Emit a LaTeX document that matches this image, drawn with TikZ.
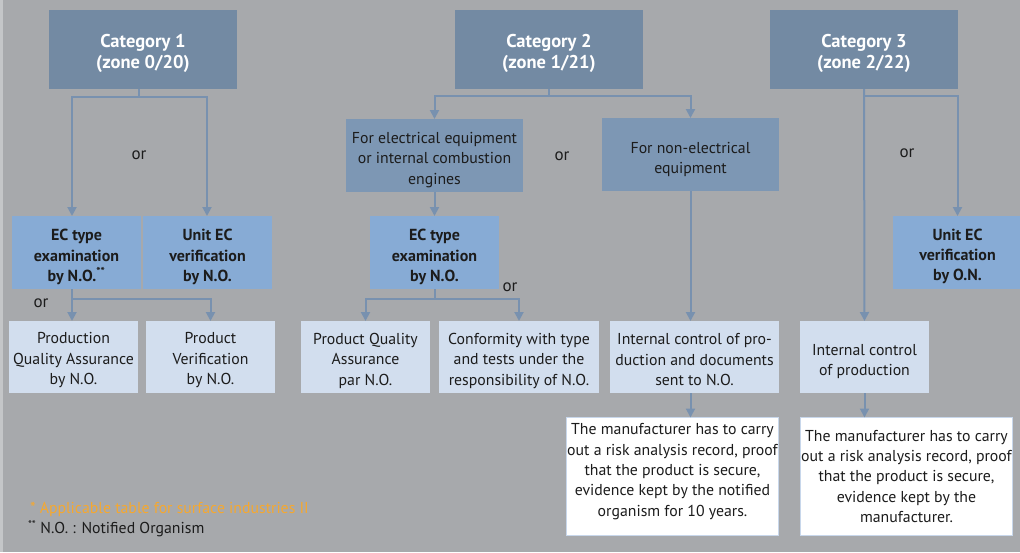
\documentclass[tikz,border=0pt]{standalone}
\usepackage{fontspec}
\setmainfont{PT Sans}
\usetikzlibrary{arrows.meta}
\definecolor{bg}{HTML}{A7A9AC}
\definecolor{strip}{HTML}{C4C6C8}
\definecolor{catc}{HTML}{738AA3}
\definecolor{midc}{HTML}{7D97B4}
\definecolor{ecc}{HTML}{87ABD5}
\definecolor{lightc}{HTML}{D2DEEE}
\definecolor{wbord}{HTML}{C8D7EB}
\definecolor{linec}{HTML}{7891AF}
\definecolor{orangec}{HTML}{F5A830}
\definecolor{txt}{HTML}{1C1C1C}
% name, box style, text style, centre, width, height, text shift, text
\newcommand\makebx[8]{%
  \node[#2,minimum width=#5,minimum height=#6] (#1) at (#4) {};
  \node[#3] (#1t) at ([yshift=#7]#1.center) {#8};}
\begin{document}
\begin{tikzpicture}[x=1pt,y=-1pt,
  base/.style={inner sep=0pt,outer sep=0pt,align=center,font=\fontsize{15.8}{20.5}\selectfont,text=txt},
  catbox/.style={base,fill=catc},
  midbox/.style={base,fill=midc},
  ecbox/.style={base,fill=ecc},
  lightbox/.style={base,fill=lightc},
  whitebox/.style={base,fill=white,draw=wbord,line width=1.5pt},
  cattext/.style={base,text=white,font=\bfseries\fontsize{18.5}{21}\selectfont},
  plaintext/.style={base},
  ectext/.style={base,font=\bfseries\fontsize{16}{20.3}\selectfont},
  whitetext/.style={base,font=\fontsize{15.8}{20.4}\selectfont},
  ortext/.style={base,font=\fontsize{17}{18}\selectfont},
  conn/.style={draw=linec,line width=2pt},
  arr/.style={conn,-{Triangle[length=9pt,width=9pt]}}
]
\useasboundingbox (0,0) rectangle (1020,552);
\fill[bg] (0,0) rectangle (1020,552);
\fill[strip] (0,0) rectangle (3,552);

% top categories
\makebx{cat1}{catbox}{cattext}{143,49.5}{188}{79}{-4pt}{Category 1\\(zone 0/20)}
\makebx{cat2}{catbox}{cattext}{549,49.5}{188}{79}{-4pt}{Category 2\\(zone 1/21)}
\makebx{cat3}{catbox}{cattext}{864,49.5}{188}{79}{-4pt}{Category 3\\(zone 2/22)}

% category 1 branch
\makebx{ecA}{ecbox}{ectext}{76.5,252.5}{129}{73}{-4.5pt}{EC type\\examination\\by N.O.\textsuperscript{**}}
\makebx{unitA}{ecbox}{ectext}{207.5,252.5}{129}{73}{-4.5pt}{Unit EC\\verification\\by N.O.}
\makebx{pqaA}{lightbox}{plaintext}{73.5,357}{129}{72}{-3.5pt}{Production\\Quality Assurance\\by N.O.}
\makebx{pvA}{lightbox}{plaintext}{210.5,357}{129}{72}{-3.5pt}{Product\\Verification\\by N.O.}
\node[ortext] (or1) at (139,155) {or};
\node[ortext] (or2) at (41,303) {or};

% category 2 branch
\makebx{elec}{midbox}{plaintext}{434.5,155.5}{177}{73}{-4.5pt}{For electrical equipment\\or internal combustion\\engines}
\makebx{nonel}{midbox}{plaintext}{690.5,154.5}{177}{73}{-5pt}{For non-electrical\\equipment}
\makebx{ecB}{ecbox}{ectext}{434.5,252.5}{129}{73}{-4.5pt}{EC type\\examination\\by N.O.}
\makebx{pqaB}{lightbox}{plaintext}{365.5,357}{129}{72}{-3.5pt}{Product Quality\\Assurance\\par N.O.}
\makebx{conf}{lightbox}{plaintext}{519,357}{160}{72}{-3.5pt}{Conformity with type\\and tests under the\\responsibility of N.O.}
\makebx{icp}{lightbox}{plaintext}{694.5,357}{169}{72}{-3pt}{Internal control of pro-\\duction and documents\\sent to N.O.}
\makebx{white1}{whitebox}{whitetext}{672.5,476.5}{212}{118}{5pt}{The manufacturer has to carry\\out a risk analysis record, proof\\that the product is secure,\\evidence kept by the notified\\organism for 10 years.}
\node[ortext] (or3) at (562,156) {or};
\node[ortext] (or4) at (510,287) {or};

% category 3 branch
\makebx{unitC}{ecbox}{ectext}{957.5,252.5}{129}{73}{-4pt}{Unit EC\\verification\\by O.N.}
\makebx{icp3}{lightbox}{plaintext}{864.5,357}{129}{72}{-4.5pt}{Internal control\\of production}
\makebx{white2}{whitebox}{whitetext}{906.5,476.5}{212}{118}{0pt}{The manufacturer has to carry\\out a risk analysis record, proof\\that the product is secure,\\evidence kept by the\\manufacturer.}
\node[ortext] (or5) at (907,153) {or};

% footnotes
\node[base,anchor=west,text=orangec,font=\fontsize{15.8}{17}\selectfont] (fn1) at (30,509) {* Applicable table for surface industries II};
\node[base,anchor=west,font=\fontsize{15.8}{17}\selectfont] (fn2) at (28,529) {\textsuperscript{**} N.O. : Notified Organism};

% connectors category 1
\draw[conn] ([xshift=-4pt]cat1.south) -- ++(0,8) coordinate (j1);
\draw[arr] (j1) -| ([xshift=-4.5pt]ecA.north);
\draw[arr] (j1) -| ([xshift=-0.5pt]unitA.north);
\draw[conn] ([xshift=-4.5pt]ecA.south) -- ++(0,10) coordinate (j2);
\draw[arr] (j2) -- (j2 |- pqaA.north);
\draw[arr] (j2) -| (pvA.north);

% connectors category 2
\draw[conn] (cat2.south) -- ++(0,7) coordinate (j3);
\draw[arr] (j3) -| (elec.north);
\draw[arr] (j3) -| (nonel.north);
\draw[arr] (elec.south) -- (ecB.north);
\draw[conn] (ecB.south) -- ++(0,10) coordinate (j4);
\draw[arr] (j4) -| (pqaB.north);
\draw[arr] (j4) -| (conf.north);
\draw[arr] (nonel.south) -- (nonel.south |- icp.north);
\draw[arr] (nonel.south |- icp.south) -- (nonel.south |- white1.north);

% connectors category 3
\draw[arr] (cat3.south) -- (icp3.north);
\draw[arr] (cat3.south |- j3) -| (unitC.north);
\draw[arr] (icp3.south) -- (icp3.south |- white2.north);
\end{tikzpicture}
\end{document}
